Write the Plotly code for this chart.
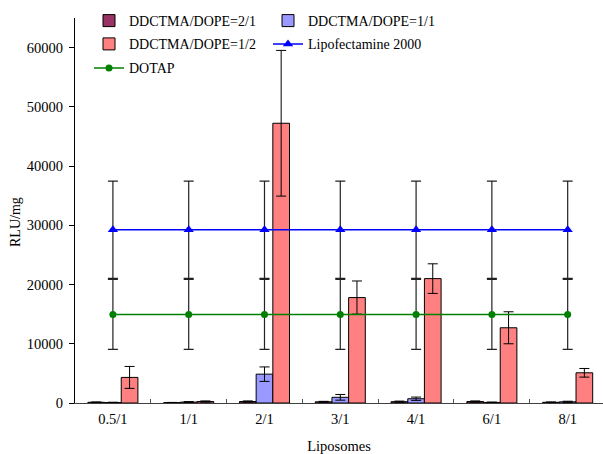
import plotly.graph_objects as go

categories = ["0.5/1", "1/1", "2/1", "3/1", "4/1", "6/1", "8/1"]

s21_vals = [120, 60, 250, 200, 220, 250, 120]
s21_err = [60, 40, 100, 80, 100, 100, 60]
s11_vals = [80, 150, 4870, 960, 720, 100, 200]
s11_err = [50, 90, 1220, 480, 280, 60, 100]
s12_vals = [4320, 250, 47230, 17800, 21000, 12700, 5100]
s12_err = [1850, 100, 12300, 2800, 2500, 2700, 730]
lipo_vals = [29250] * 7
lipo_err = [8200] * 7
dotap_vals = [14960] * 7
dotap_err = [5900] * 7

yticks = [0, 10000, 20000, 30000, 40000, 50000, 60000]

FONT = "Liberation Serif, Times New Roman, serif"

fig = go.Figure()

def bar(name, vals, err, color, legend):
    return go.Bar(
        name=name, x=categories, y=vals,
        marker=dict(color=color, line=dict(color="black", width=1)),
        error_y=dict(type="data", array=err, visible=True, color="black", thickness=1, width=5),
        legend=legend, showlegend=True,
    )

fig.add_trace(bar("DDCTMA/DOPE=2/1", s21_vals, s21_err, "#993366", "legend"))
fig.add_trace(bar("DDCTMA/DOPE=1/1", s11_vals, s11_err, "#9999FF", "legend2"))
fig.add_trace(bar("DDCTMA/DOPE=1/2", s12_vals, s12_err, "#FF8080", "legend3"))

fig.add_trace(go.Scatter(
    name="Lipofectamine 2000", x=categories, y=lipo_vals, mode="lines+markers",
    line=dict(color="#0000FF", width=1.5),
    marker=dict(symbol="triangle-up", size=9, color="#0000FF"),
    error_y=dict(type="data", array=lipo_err, visible=True, color="#222222", thickness=1.2, width=5),
    legend="legend4",
))
fig.add_trace(go.Scatter(
    name="DOTAP", x=categories, y=dotap_vals, mode="lines+markers",
    line=dict(color="#008000", width=1.5),
    marker=dict(symbol="circle", size=7, color="#008000"),
    error_y=dict(type="data", array=dotap_err, visible=True, color="#222222", thickness=1.2, width=5),
    legend="legend5",
))

W, H = 603, 454
ml, mr, mt, mb = 75, 0, 18, 51
pw = W - ml - mr
ph = H - mt - mb

def lx(px):
    return (px - ml) / pw

def ly(py):
    return (H - mb - py) / ph

leg_common = dict(
    font=dict(family=FONT, size=14, color="black"),
    bgcolor="rgba(0,0,0,0)", borderwidth=0,
    xanchor="left", yanchor="middle",
)

fig.update_layout(
    width=W, height=H,
    margin=dict(l=ml, r=mr, t=mt, b=mb),
    paper_bgcolor="white", plot_bgcolor="white",
    showlegend=True,
    barmode="group", bargap=0.34, bargroupgap=0,
    font=dict(family=FONT, size=14, color="black"),
    legend=dict(x=lx(89), y=ly(21), **leg_common),
    legend2=dict(x=lx(268), y=ly(21), **leg_common),
    legend3=dict(x=lx(89), y=ly(44.3), **leg_common),
    legend4=dict(x=lx(268), y=ly(44.3), **leg_common),
    legend5=dict(x=lx(89), y=ly(68.3), **leg_common),
    xaxis=dict(
        type="category", range=[-0.5, 6.466],
        tickson="boundaries", ticks="inside", ticklen=4, tickcolor="#555555",
        showline=True, linecolor="#404040", linewidth=1,
        showgrid=False, zeroline=False, ticklabelstandoff=3,
        tickfont=dict(family=FONT, size=14.5, color="black"),
        title=dict(text="Liposomes", font=dict(family=FONT, size=14.5, color="black"), standoff=14),
    ),
    yaxis=dict(
        range=[0, 65000], tickvals=yticks, ticktext=[str(v) for v in yticks],
        ticks="outside", ticklen=5, tickcolor="black",
        showline=True, linecolor="black", linewidth=1,
        showgrid=False, zeroline=False, ticklabelstandoff=3,
        tickfont=dict(family=FONT, size=14.5, color="black"),
    ),
    annotations=[dict(
        text="RLU/mg", textangle=-90, xref="paper", yref="paper",
        x=lx(16), y=ly(222), xanchor="center", yanchor="middle", showarrow=False,
        font=dict(family=FONT, size=14, color="black"),
    )],
)

fig.write_html("out.html", config={"displayModeBar": False},
               post_script="document.body.style.margin='0';")
